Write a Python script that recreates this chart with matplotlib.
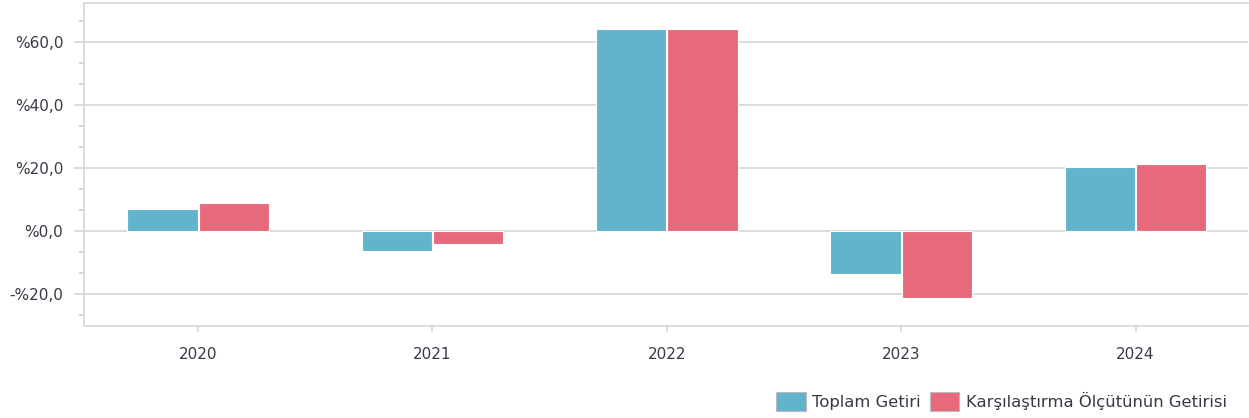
import numpy as np
import matplotlib.pyplot as plt
from matplotlib.ticker import MultipleLocator, AutoMinorLocator, FuncFormatter

years = ["2020", "2021", "2022", "2023", "2024"]
toplam = [7.0, -6.3, 64.2, -13.6, 20.3]
olcut = [9.0, -4.3, 64.3, -21.3, 21.3]
series_names = ["Toplam Getiri", "Karşılaştırma Ölçütünün Getirisi"]

blue = "#62B3CC"
red = "#E66A7B"
grid_c = "#D6D6D6"
text_c = "#363A45"

fig = plt.figure(figsize=(12.49, 4.18), dpi=100)
ax = fig.add_axes([84 / 1249, 92 / 418, (1248 - 84) / 1249, (326 - 3) / 418])

x = np.arange(len(years))
w = 0.30
ax.bar(x - w / 2 - 0.002, toplam, w, color=blue, edgecolor="white", linewidth=0.8,
       label=series_names[0], zorder=3)
ax.bar(x + w / 2 + 0.002, olcut, w, color=red, edgecolor="white", linewidth=0.8,
       label=series_names[1], zorder=3)

ax.set_xlim(-0.487, 4.48)
ax.set_ylim(-30.2, 72.4)
ax.set_xticks(x)
ax.set_xticklabels(years)

ax.yaxis.set_major_locator(MultipleLocator(20))
ax.yaxis.set_minor_locator(AutoMinorLocator(3))


def pct(v, pos):
    s = f"%{abs(v):.1f}".replace(".", ",")
    return "-" + s if v < 0 else s


ax.yaxis.set_major_formatter(FuncFormatter(pct))
ax.grid(axis="y", which="major", color=grid_c, linewidth=1.2, zorder=0)

for side in ["left", "bottom", "top"]:
    ax.spines[side].set_color(grid_c)
    ax.spines[side].set_linewidth(1.2)
ax.spines["right"].set_visible(False)

ax.tick_params(axis="y", which="major", length=7, width=1.2, color=grid_c,
               labelsize=11, labelcolor=text_c, pad=8)
ax.tick_params(axis="y", which="minor", length=3.5, width=1.3, color="#CFCFCF")
ax.tick_params(axis="x", which="major", length=4, width=1.2, color=grid_c,
               labelsize=11, labelcolor=text_c, pad=11)

leg = fig.legend(loc="lower right", bbox_to_anchor=(0.994, -0.018), ncol=2, frameon=False,
                 fontsize=11.8, handlelength=1.8, handleheight=1.35, handletextpad=0.4,
                 columnspacing=0.55, labelcolor=text_c)
for p in leg.get_patches():
    p.set_edgecolor("#BBBBBB")
    p.set_linewidth(0.8)

fig.savefig("out.png", dpi=100)
